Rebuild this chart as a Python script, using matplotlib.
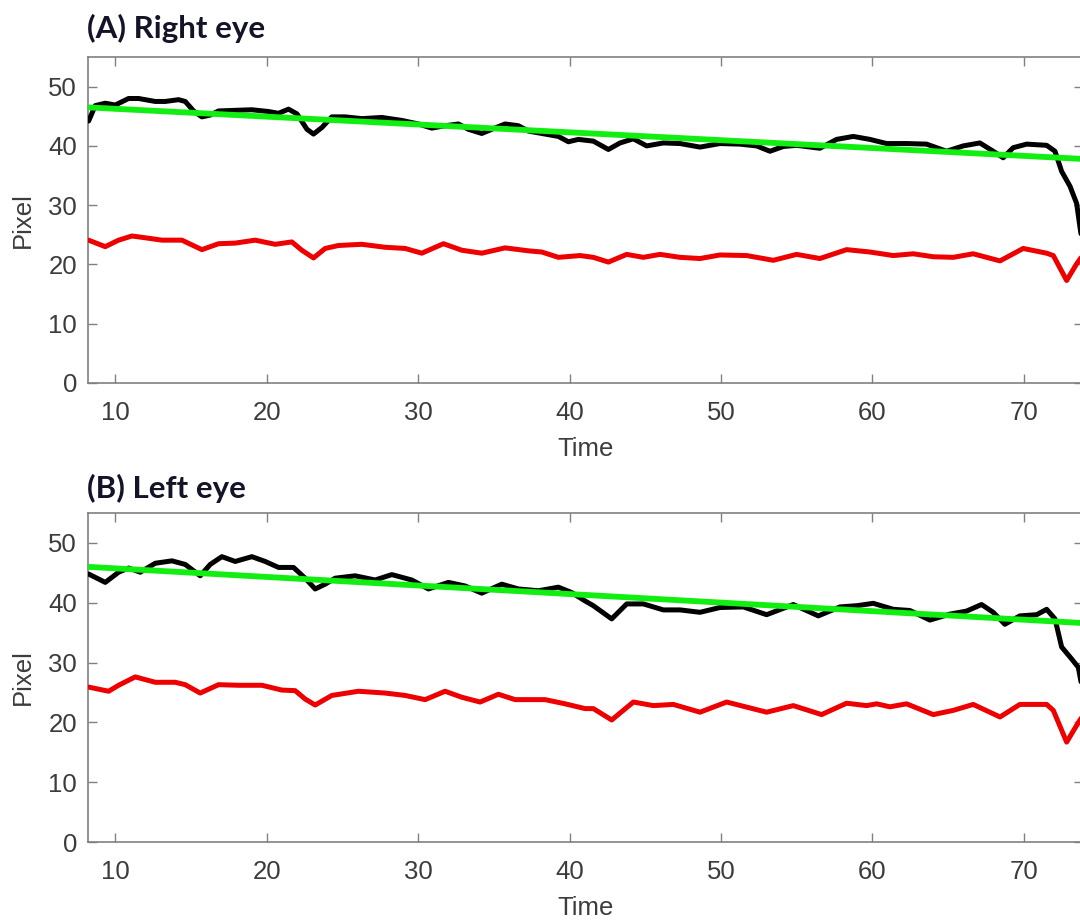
import matplotlib
matplotlib.use("Agg")
import matplotlib.pyplot as plt

# ---- data ----
# (A) right eye
right_black_t = [8.24, 8.68, 9.34, 10.0, 10.88, 11.54, 12.64, 13.3, 14.18, 14.62, 15.17, 15.72,
                 16.27, 16.82, 17.92, 19.02, 20.12, 20.78, 21.44, 22.0, 22.66, 23.09, 23.64, 24.3,
                 25.18, 26.28, 27.6, 28.92, 30.02, 30.9, 31.78, 32.66, 33.32, 34.2, 34.86, 35.74,
                 36.62, 37.28, 38.38, 39.26, 39.92, 40.58, 41.57, 42.56, 43.33, 44.21, 45.09,
                 46.19, 47.29, 48.61, 49.93, 51.25, 52.35, 53.23, 54.11, 54.99, 56.53, 57.63,
                 58.73, 59.83, 60.93, 62.25, 63.57, 64.89, 65.99, 67.09, 67.97, 68.63, 69.29,
                 70.18, 71.5, 72.05, 72.49, 73.04, 73.48, 73.7, 73.9]
right_black_y = [44.2, 46.8, 47.2, 46.9, 48.0, 48.0, 47.5, 47.5, 47.8, 47.5, 45.9, 44.9,
                 45.2, 45.9, 46.0, 46.1, 45.8, 45.5, 46.2, 45.4, 42.8, 42.0, 43.1, 44.9,
                 44.9, 44.6, 44.8, 44.3, 43.7, 43.0, 43.4, 43.7, 42.8, 42.1, 42.8, 43.7,
                 43.4, 42.5, 42.0, 41.6, 40.7, 41.1, 40.8, 39.4, 40.5, 41.2, 40.0,
                 40.5, 40.4, 39.8, 40.4, 40.3, 40.0, 39.1, 39.9, 40.1, 39.6, 41.1,
                 41.6, 41.1, 40.4, 40.4, 40.3, 39.1, 40.0, 40.5, 39.1, 38.0, 39.7,
                 40.3, 40.1, 39.1, 35.7, 33.2, 30.3, 26.3, 23.0]
right_red_t = [8.24, 9.34, 10.22, 11.1, 11.98, 13.08, 14.4, 15.72, 16.82, 17.92, 19.24, 20.56,
               21.66, 22.32, 23.09, 23.86, 24.74, 26.28, 27.82, 29.14, 30.24, 31.67, 32.88,
               34.2, 35.74, 37.28, 38.16, 39.26, 40.69, 41.57, 42.56, 43.77, 44.87, 45.97,
               47.29, 48.61, 49.93, 51.69, 53.45, 54.99, 56.53, 58.29, 59.83, 61.37, 62.69,
               64.01, 65.33, 66.65, 68.42, 69.95, 71.5, 71.94, 72.82, 73.48, 73.9]
right_red_y = [24.1, 23.0, 24.1, 24.8, 24.5, 24.1, 24.1, 22.5, 23.5, 23.6, 24.1, 23.4,
               23.8, 22.4, 21.1, 22.7, 23.2, 23.4, 22.9, 22.7, 21.9, 23.5, 22.4,
               21.9, 22.8, 22.3, 22.1, 21.2, 21.5, 21.2, 20.4, 21.7, 21.2, 21.7,
               21.2, 21.0, 21.6, 21.5, 20.7, 21.7, 21.0, 22.5, 22.1, 21.5, 21.8,
               21.3, 21.2, 21.8, 20.6, 22.7, 21.9, 21.5, 17.3, 20.1, 21.6]
right_fit_t = [8.2, 73.9]
right_fit_y = [46.5, 37.8]

# (B) left eye
left_black_t = [8.24, 9.34, 10.22, 10.88, 11.65, 12.64, 13.74, 14.62, 15.61, 16.27, 17.04,
                17.92, 19.02, 19.9, 20.78, 21.77, 22.54, 23.2, 23.86, 24.52, 25.84, 27.16,
                28.26, 29.58, 30.68, 32.0, 33.1, 34.2, 35.52, 36.62, 37.94, 39.26, 40.14,
                41.02, 41.57, 42.78, 43.77, 44.87, 46.19, 47.29, 48.61, 49.93, 51.47, 53.01,
                54.77, 56.42, 57.85, 58.95, 60.05, 61.37, 62.47, 63.79, 65.11, 66.21, 67.2,
                67.97, 68.74, 69.73, 70.84, 71.5, 72.05, 72.49, 73.15, 73.59, 73.9]
left_black_y = [44.8, 43.4, 45.1, 45.8, 45.1, 46.6, 47.0, 46.4, 44.5, 46.4, 47.7,
                46.9, 47.7, 46.9, 45.9, 45.9, 44.1, 42.3, 43.1, 44.1, 44.5, 43.8,
                44.7, 43.8, 42.3, 43.4, 42.8, 41.6, 43.1, 42.3, 42.0, 42.6, 41.7,
                40.3, 39.5, 37.3, 39.8, 39.8, 38.8, 38.8, 38.4, 39.2, 39.3, 38.0,
                39.7, 37.8, 39.3, 39.5, 39.9, 38.9, 38.7, 37.1, 38.1, 38.6, 39.7,
                38.4, 36.4, 37.8, 38.0, 38.9, 37.3, 32.6, 30.6, 29.2, 25.0]
left_red_t = [8.24, 9.56, 10.22, 11.32, 12.64, 13.96, 14.62, 15.61, 16.82, 18.14, 19.68, 21.0,
              21.88, 22.54, 23.2, 24.3, 26.06, 27.82, 29.14, 30.46, 31.78, 32.88, 34.09,
              35.3, 36.4, 38.38, 39.7, 41.02, 41.57, 42.78, 44.21, 45.53, 46.85, 48.61,
              50.37, 53.01, 54.77, 56.64, 58.29, 59.61, 60.27, 61.15, 62.25, 64.01, 65.33,
              66.65, 68.42, 69.73, 71.5, 71.94, 72.82, 73.48, 73.9]
left_red_y = [25.9, 25.2, 26.2, 27.6, 26.7, 26.7, 26.3, 24.9, 26.3, 26.2, 26.2, 25.4,
              25.3, 23.9, 22.9, 24.5, 25.2, 24.9, 24.5, 23.8, 25.2, 24.2, 23.4,
              24.7, 23.8, 23.8, 23.1, 22.3, 22.3, 20.4, 23.4, 22.8, 23.0, 21.7,
              23.4, 21.7, 22.8, 21.3, 23.2, 22.8, 23.1, 22.6, 23.1, 21.3, 22.0,
              23.0, 20.9, 23.0, 23.0, 22.0, 16.7, 19.5, 21.2]
left_fit_t = [8.2, 73.9]
left_fit_y = [46.0, 36.6]

panels = [
    ("(A) Right eye", right_black_t, right_black_y, right_red_t, right_red_y, right_fit_t, right_fit_y),
    ("(B) Left eye", left_black_t, left_black_y, left_red_t, left_red_y, left_fit_t, left_fit_y),
]

W, H = 1080, 922
fig = plt.figure(figsize=(W / 100, H / 100), dpi=100)
plt.rcParams['font.family'] = ['Liberation Sans', 'DejaVu Sans']

# pixel boxes of the two axes: (left, top, right, bottom)
boxes = [(88, 57, 1083, 383), (88, 513, 1083, 842)]
title_y = [38, 498]
spine_col = '#808080'
text_col = '#3c3c3c'

for (title, bt, by, rt, ry, ft, fy), (l, t, r, b), ty in zip(panels, boxes, title_y):
    ax = fig.add_axes([l / W, 1 - b / H, (r - l) / W, (b - t) / H])
    ax.plot(bt, by, color='black', lw=3.6, solid_joinstyle='round', solid_capstyle='round', zorder=3)
    ax.plot(rt, ry, color='#ee0000', lw=3.6, solid_joinstyle='round', solid_capstyle='round', zorder=3)
    ax.plot(ft, fy, color='#11ee11', lw=4.2, zorder=4)
    ax.set_xlim(8.2, 73.9)
    ax.set_ylim(0, 55)
    ax.set_xticks([10, 20, 30, 40, 50, 60, 70])
    ax.set_yticks([0, 10, 20, 30, 40, 50])
    for s in ax.spines.values():
        s.set_color(spine_col)
        s.set_linewidth(1.2)
    ax.tick_params(direction='in', length=6.5, width=1.0, color=spine_col,
                   top=True, right=True, labelsize=18.5, labelcolor=text_col)
    ax.tick_params(axis='x', pad=13)
    ax.tick_params(axis='y', pad=8)
    ax.set_xlabel('Time', fontsize=18.5, color=text_col)
    ax.xaxis.set_label_coords(0.5, -0.165)
    ax.set_ylabel('Pixel', fontsize=18.5, color=text_col)
    ax.yaxis.set_label_coords(-0.053, 0.5)
    fig.text(87 / W, 1 - ty / H, title, family=['Lato', 'DejaVu Sans'], fontweight='bold',
             fontsize=22.5, color='#141428', ha='left', va='baseline')

fig.savefig('out.png', dpi=100)
